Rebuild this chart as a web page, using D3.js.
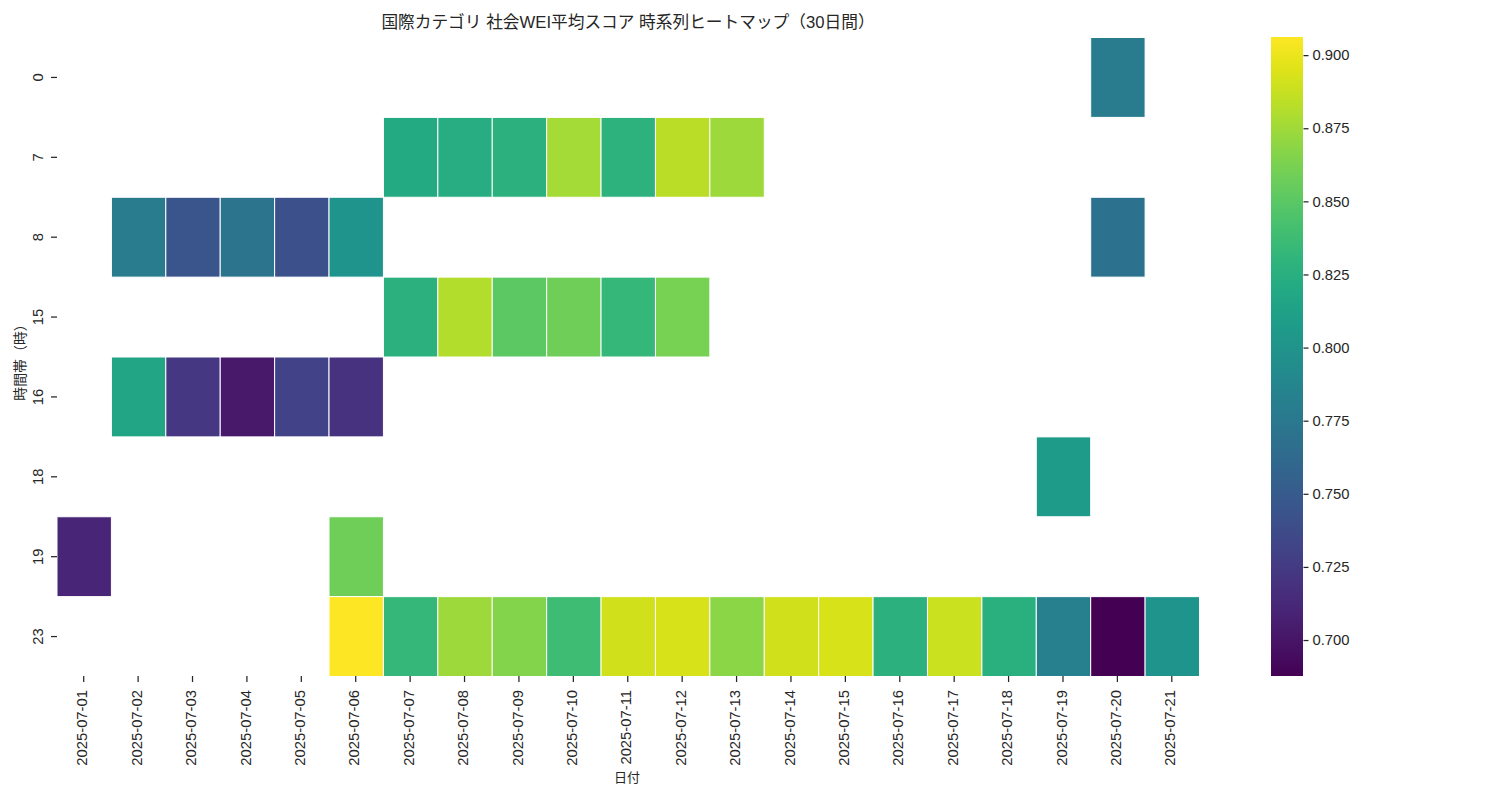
<!DOCTYPE html>
<html lang="ja">
<head>
<meta charset="UTF-8">
<title>国際カテゴリ 社会WEI平均スコア 時系列ヒートマップ</title>
<script src="https://d3js.org/d3.v7.min.js"></script>
<style>
    html, body { margin: 0; background: #fff; }
    svg { display: block; }
    text { font-family: "Liberation Sans", "Noto Sans CJK JP", sans-serif; fill: #262626; }
    .tick text { font-size: 14.8px; }
    .tick line { stroke: #262626; stroke-width: 1.25px; }
    .domain { display: none; }
</style>
</head>
<body>
<svg width="1500" height="800"></svg>
<script>
const dates = ["2025-07-01", "2025-07-02", "2025-07-03", "2025-07-04", "2025-07-05", "2025-07-06", "2025-07-07",
    "2025-07-08", "2025-07-09", "2025-07-10", "2025-07-11", "2025-07-12", "2025-07-13", "2025-07-14",
    "2025-07-15", "2025-07-16", "2025-07-17", "2025-07-18", "2025-07-19", "2025-07-20", "2025-07-21"];
const hours = [0, 7, 8, 15, 16, 18, 19, 23];
const colorTicks = [0.7, 0.725, 0.75, 0.775, 0.8, 0.825, 0.85, 0.875, 0.9];
const colorMin = 0.6877, colorMax = 0.9062;

// 各時間帯の値 (null = データなし)
const _ = null;
const h0  = [_, _, _, _, _, _, _, _, _, _, _, _, _, _, _, _, _, _, _, 0.779, _];
const h7  = [_, _, _, _, _, _, 0.820, 0.824, 0.827, 0.877, 0.828, 0.884, 0.874, _, _, _, _, _, _, _, _];
const h8  = [_, 0.779, 0.745, 0.771, 0.741, 0.801, _, _, _, _, _, _, _, _, _, _, _, _, _, 0.770, _];
const h15 = [_, _, _, _, _, _, 0.827, 0.881, 0.851, 0.858, 0.833, 0.861, _, _, _, _, _, _, _, _, _];
const h16 = [_, 0.816, 0.722, 0.702, 0.731, 0.719, _, _, _, _, _, _, _, _, _, _, _, _, _, _, _];
const h18 = [_, _, _, _, _, _, _, _, _, _, _, _, _, _, _, _, _, _, 0.808, _, _];
const h19 = [0.710, _, _, _, _, 0.858, _, _, _, _, _, _, _, _, _, _, _, _, _, _, _];
const h23 = [_, _, _, _, _, 0.906, 0.833, 0.874, 0.866, 0.838, 0.890, 0.893, 0.868, 0.890, 0.893, 0.827, 0.889, 0.826, 0.782, 0.688, 0.801];
const rows = [h0, h7, h8, h15, h16, h18, h19, h23];

const svg = d3.select("svg");
const plot = { left: 57, right: 1199.5, top: 37.5, bottom: 676.5 };
const bar = { left: 1271, right: 1303, top: 37, bottom: 676 };

const x = d3.scaleBand().domain(dates).range([plot.left, plot.right]);
const y = d3.scaleBand().domain(hours).range([plot.top, plot.bottom]);
const color = d3.scaleSequential(d3.interpolateViridis).domain([colorMin, colorMax]);

// セルを描く
const cells = [];
rows.forEach((row, i) => row.forEach((v, j) => {
    if (v !== null) cells.push({ hour: hours[i], date: dates[j], value: v });
}));
svg.append("g").selectAll("rect")
    .data(cells)
    .enter().append("rect")
    .attr("x", d => x(d.date))
    .attr("y", d => y(d.hour))
    .attr("width", x.bandwidth())
    .attr("height", y.bandwidth())
    .attr("fill", d => color(d.value))
    .attr("stroke", "#fff")
    .attr("stroke-width", 1);

// X軸
const xAxis = svg.append("g")
    .attr("transform", `translate(-0.5,${bar.bottom})`)
    .call(d3.axisBottom(x).tickSize(6));
xAxis.selectAll("text")
    .attr("transform", "translate(-1.5,14) rotate(-90)")
    .attr("text-anchor", "end")
    .attr("x", 0)
    .attr("y", 0)
    .attr("dy", "0.35em");

// Y軸
const yAxis = svg.append("g")
    .attr("transform", `translate(${plot.left},0)`)
    .call(d3.axisLeft(y).tickSize(6));
yAxis.selectAll("text")
    .attr("transform", "translate(-14,0) rotate(-90)")
    .attr("text-anchor", "middle")
    .attr("x", 0)
    .attr("y", 0)
    .attr("dy", 0);

// カラーバー
const gradId = "viridis-bar";
const grad = svg.append("defs").append("linearGradient")
    .attr("id", gradId)
    .attr("x1", 0).attr("x2", 0).attr("y1", 1).attr("y2", 0);
d3.range(0, 1.0001, 0.05).forEach(t => {
    grad.append("stop").attr("offset", t).attr("stop-color", d3.interpolateViridis(t));
});
const yBar = d3.scaleLinear().domain([colorMin, colorMax]).range([bar.bottom, bar.top]);
svg.append("rect")
    .attr("x", bar.left)
    .attr("y", bar.top)
    .attr("width", bar.right - bar.left)
    .attr("height", bar.bottom - bar.top)
    .attr("fill", `url(#${gradId})`);
svg.append("g")
    .attr("transform", `translate(${bar.right + 0.5},0)`)
    .call(d3.axisRight(yBar).tickValues(colorTicks).tickFormat(d3.format(".3f")).tickSize(5).tickPadding(4));

// タイトルとラベル
svg.append("text")
    .attr("x", 628).attr("y", 28)
    .attr("text-anchor", "middle")
    .style("font-size", "16.7px")
    .text("国際カテゴリ 社会WEI平均スコア 時系列ヒートマップ（30日間）");
svg.append("text")
    .attr("x", 627).attr("y", 782)
    .attr("text-anchor", "middle")
    .style("font-size", "13px")
    .text("日付");
svg.append("text")
    .attr("transform", "translate(25,359) rotate(-90)")
    .attr("text-anchor", "middle")
    .style("font-size", "13.9px")
    .text("時間帯（時）");
</script>
</body>
</html>
